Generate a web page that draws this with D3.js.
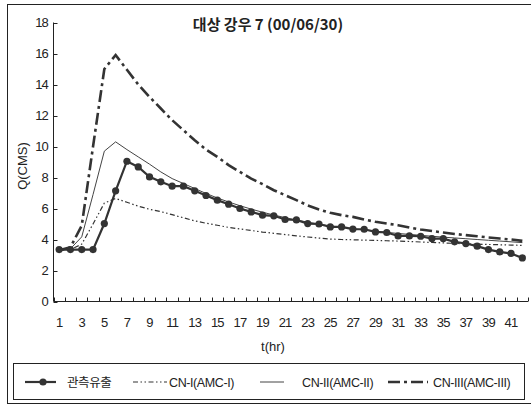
<!DOCTYPE html>
<meta charset="utf-8">

<style>
body { margin: 0; background: #fff; }
text {
  font-family: "Liberation Sans", "Noto Sans CJK KR", sans-serif;
  fill: #222;
}
.title { font-size: 15px; font-weight: bold; font-family: "Noto Sans CJK KR", sans-serif; }
.tick-label { font-size: 13px; letter-spacing: -0.8px; }
.axis-title { font-size: 13px; }
.legend text { font-size: 12.5px; letter-spacing: -0.4px; }
</style>

<body>
<script src="https://d3js.org/d3.v7.min.js"></script>
<script>

var title = "대상 강우 7 (00/06/30)";
var hours = d3.range(1, 43);
var yTicks = [0, 2, 4, 6, 8, 10, 12, 14, 16, 18];

var observed = [3.35, 3.35, 3.35, 3.35, 5.03, 7.14, 9.05, 8.68, 8.04, 7.72,
                7.44, 7.44, 7.14, 6.84, 6.54, 6.28, 6.0, 5.78, 5.57, 5.53,
                5.29, 5.26, 5.03, 5.0, 4.81, 4.81, 4.67, 4.66, 4.49, 4.45,
                4.23, 4.23, 4.21, 4.06, 4.06, 3.85, 3.74, 3.57, 3.35, 3.2,
                3.1, 2.81];
var cn1 = [3.3, 3.35, 3.7, 5.0, 6.35, 6.65, 6.4, 6.15, 5.95, 5.8,
           5.6, 5.4, 5.2, 5.05, 4.92, 4.78, 4.68, 4.58, 4.48, 4.4,
           4.32, 4.24, 4.16, 4.09, 4.03, 4.0, 3.98, 3.96, 3.94, 3.92,
           3.9, 3.87, 3.84, 3.81, 3.78, 3.75, 3.72, 3.7, 3.68, 3.66,
           3.64, 3.62];
var cn2 = [3.3, 3.4, 4.17, 6.9, 9.7, 10.3, 9.8, 9.33, 8.86, 8.36,
           7.93, 7.61, 7.29, 6.97, 6.68, 6.42, 6.18, 5.96, 5.76, 5.58,
           5.41, 5.26, 5.12, 4.99, 4.88, 4.78, 4.69, 4.61, 4.53, 4.46,
           4.39, 4.33, 4.27, 4.21, 4.15, 4.1, 4.05, 4.0, 3.95, 3.9,
           3.85, 3.8];
var cn3 = [3.3, 3.5, 4.9, 10.0, 15.0, 15.9, 14.95, 14.0, 13.2, 12.45,
           11.7, 11.05, 10.4, 9.8, 9.33, 8.8, 8.36, 7.93, 7.57, 7.18,
           6.86, 6.54, 6.2, 5.93, 5.72, 5.57, 5.46, 5.29, 5.14, 5.03,
           4.92, 4.77, 4.64, 4.55, 4.45, 4.36, 4.28, 4.21, 4.13, 4.06,
           4.0, 3.91];

var legendNames = ["관측유출", "CN-I(AMC-I)", "CN-II(AMC-II)", "CN-III(AMC-III)"];

var width = 531;
var height = 407;

var svg = d3.select("body").append("svg")
    .attr("width", width)
    .attr("height", height);

// outer frame (right edge falls off the picture)
svg.append("rect")
    .attr("x", 7.5).attr("y", 4.5)
    .attr("width", 560).attr("height", 399)
    .attr("fill", "none").attr("stroke", "#222");

var x = d3.scaleBand()
    .domain(hours)
    .range([53.5, 528]);

var y = d3.scaleLinear()
    .domain([0, 18])
    .range([301.5, 22.5]);

function cx(d, i) { return x(hours[i]) + x.bandwidth() / 2; }

// y axis
var yAxis = svg.append("g");
yAxis.append("line")
    .attr("x1", x.range()[0]).attr("x2", x.range()[0])
    .attr("y1", y(0)).attr("y2", y(18))
    .attr("stroke", "#222");
yAxis.selectAll(".ytick")
  .data(yTicks)
  .enter().append("line")
    .attr("x1", x.range()[0]).attr("x2", x.range()[0] + 4)
    .attr("y1", function(d) { return Math.round(y(d)) + 0.5; })
    .attr("y2", function(d) { return Math.round(y(d)) + 0.5; })
    .attr("stroke", "#222");
yAxis.selectAll("text")
  .data(yTicks)
  .enter().append("text")
    .attr("class", "tick-label")
    .attr("x", 48)
    .attr("y", function(d) { return y(d) + 4.5; })
    .attr("text-anchor", "end")
    .text(function(d) { return d; });

// x axis, ticks between categories
var xAxis = svg.append("g");
xAxis.append("line")
    .attr("x1", x.range()[0]).attr("x2", x.range()[1])
    .attr("y1", y(0)).attr("y2", y(0))
    .attr("stroke", "#222");
var bounds = hours.map(function(h) { return x(h); }).concat([x.range()[1]]);
xAxis.selectAll(".xtick")
  .data(bounds)
  .enter().append("line")
    .attr("x1", function(d) { return Math.round(d) + 0.5; })
    .attr("x2", function(d) { return Math.round(d) + 0.5; })
    .attr("y1", y(0)).attr("y2", y(0) - 4)
    .attr("stroke", "#222");
xAxis.selectAll("text")
  .data(hours.filter(function(h) { return h % 2 == 1; }))
  .enter().append("text")
    .attr("class", "tick-label")
    .attr("x", function(d) { return x(d) + x.bandwidth() / 2; })
    .attr("y", 327)
    .attr("text-anchor", "middle")
    .text(function(d) { return d; });

// titles
svg.append("text")
    .attr("class", "title")
    .attr("x", 268).attr("y", 30)
    .attr("text-anchor", "middle")
    .text(title);

svg.append("text")
    .attr("class", "axis-title")
    .attr("transform", "translate(27,166) rotate(-90)")
    .attr("text-anchor", "middle")
    .text("Q(CMS)");

svg.append("text")
    .attr("class", "axis-title")
    .attr("x", 273).attr("y", 351)
    .attr("text-anchor", "middle")
    .text("t(hr)");

// series
var line = d3.line()
    .x(cx)
    .y(function(d) { return y(d); });

var styles = [
  { width: 2.2, dash: null, color: "#333" },
  { width: 1.2, dash: "5,2.5,1.5,2.5,1.5,2.5", color: "#333" },
  { width: 1, dash: null, color: "#444" },
  { width: 2.6, dash: "12,4,3,4", color: "#333" }
];
var series = [observed, cn1, cn2, cn3];

[1, 2, 3, 0].forEach(function(k) {
  svg.append("path")
      .datum(series[k])
      .attr("d", line)
      .attr("fill", "none")
      .attr("stroke", styles[k].color)
      .attr("stroke-width", styles[k].width)
      .attr("stroke-dasharray", styles[k].dash);
});

svg.append("g")
  .selectAll("circle")
  .data(observed)
  .enter().append("circle")
    .attr("cx", cx)
    .attr("cy", function(d) { return y(d); })
    .attr("r", 3.6)
    .attr("fill", "#333");

// legend
var legend = svg.append("g").attr("class", "legend");
legend.append("rect")
    .attr("x", 13.5).attr("y", 363.5)
    .attr("width", 511).attr("height", 36)
    .attr("fill", "none").attr("stroke", "#222");

var legendPos = [
  { x1: 25, x2: 56, tx: 67 },
  { x1: 133, x2: 167, tx: 169 },
  { x1: 260, x2: 284, tx: 302 },
  { x1: 388, x2: 428, tx: 433 }
];
var ly = 382;
legendPos.forEach(function(p, k) {
  legend.append("line")
      .attr("x1", p.x1).attr("x2", p.x2)
      .attr("y1", ly).attr("y2", ly)
      .attr("stroke", styles[k].color)
      .attr("stroke-width", styles[k].width)
      .attr("stroke-dasharray", styles[k].dash);
  legend.append("text")
      .attr("x", p.tx).attr("y", ly + 4.5)
      .text(legendNames[k]);
});
legend.append("circle")
    .attr("cx", 43).attr("cy", ly).attr("r", 3.6)
    .attr("fill", "#333");

</script>
</body>
